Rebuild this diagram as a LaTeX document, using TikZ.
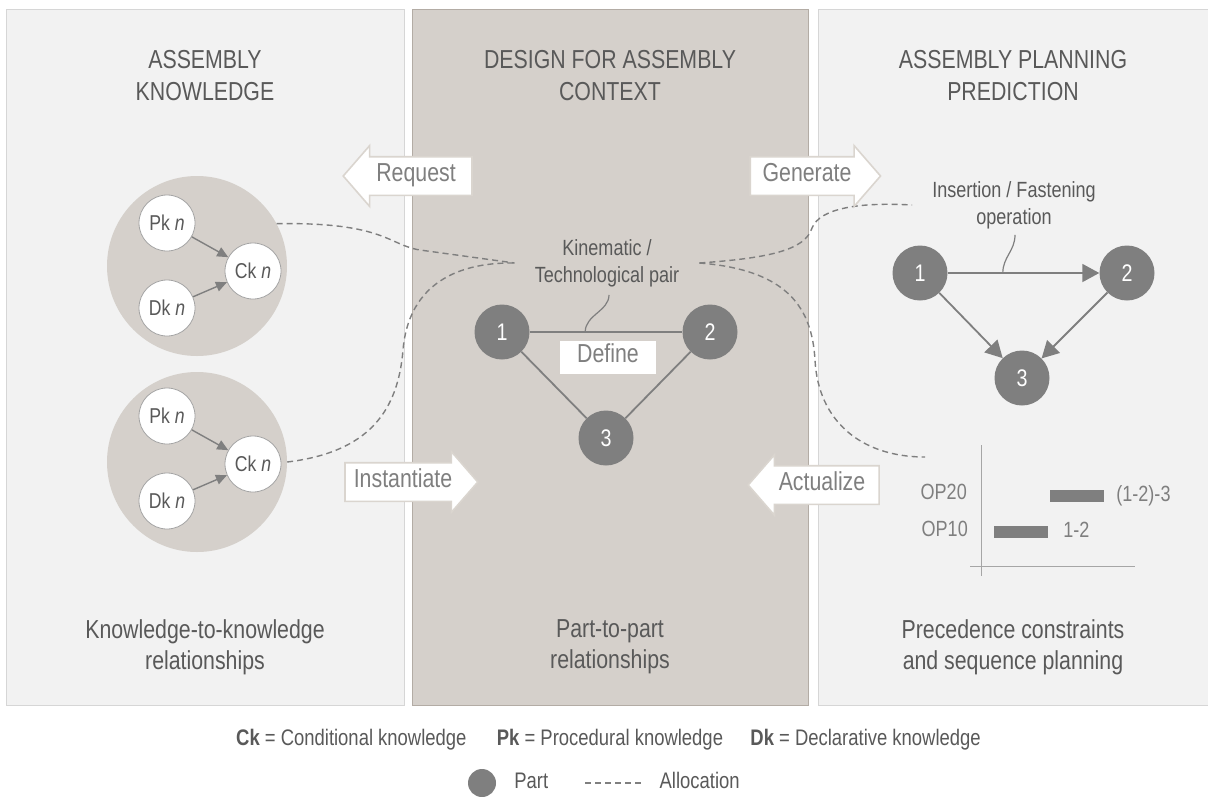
\documentclass[tikz,border=0pt]{standalone}
\usepackage{fontspec}
\setmainfont{Liberation Sans}[FakeStretch=0.82]
\usetikzlibrary{calc}
\usetikzlibrary{arrows.meta, positioning, shapes.arrows}
\definecolor{PANEL}{HTML}{F2F2F2}
\definecolor{PANELEDGE}{HTML}{D6D6D6}
\definecolor{CTX}{HTML}{D5D0CB}
\definecolor{CTXEDGE}{HTML}{B3ACA5}
\definecolor{PART}{HTML}{7F7F7F}
\definecolor{TXT}{HTML}{595959}
\definecolor{TXTL}{HTML}{7F7F7F}
\definecolor{ARREDGE}{HTML}{DAD5CF}
\definecolor{AXIS}{HTML}{A6A6A6}
\def\fsBig{\fontsize{26}{32}\selectfont}
\def\fsLow{\fontsize{26}{31}\selectfont}
\def\fsMid{\fontsize{22}{27}\selectfont}
\def\fsLeg{\fontsize{22.5}{27}\selectfont}
\tikzset{
  GRP/.style={% big grey disc holding one knowledge set
      circle, fill=CTX, minimum size=180pt, inner sep=0pt
  },
  KNW/.style={% white knowledge circles
      circle, fill=white, draw=PART!70, line width=0.8pt,
      minimum size=56pt, inner sep=0pt,
      text=TXT, font=\fontsize{21.5}{21.5}\selectfont
  },
  KARR/.style={% small arrows inside the discs
      draw=PART, line width=1.4pt,
      -{Triangle[length=11pt, width=10pt]}
  },
  PRT/.style={% dark part circles
      circle, fill=PART, minimum size=55pt, inner sep=0pt,
      text=white, font=\fontsize{24}{24}\selectfont
  },
  LNK/.style={draw=PART, line width=1.8pt},
  OPARR/.style={% operation arrows
      draw=PART, line width=1.8pt,
      -{Triangle[length=17pt, width=18pt]}
  },
  ALLOC/.style={% allocation lines
      draw=PART, line width=1.4pt, dash pattern=on 6pt off 4pt
  },
  BLK/.style={% block arrows between the panels
      single arrow, draw=ARREDGE, fill=white, line width=1.6pt,
      single arrow head extend=11pt, single arrow tip angle=98,
      inner xsep=#1, inner ysep=9pt,
      text height=15pt, text depth=4pt,
      text=TXTL, font=\fsBig
  },
  LBL/.style={% small annotation texts
      align=center, text=TXT, font=\fsMid, inner xsep=20pt, inner ysep=5pt
  },
  TTL/.style={align=center, text=TXT, font=\fsBig},
  DSC/.style={align=center, text=TXT, font=\fsLow},
  BAR/.style={rectangle, fill=PART, minimum width=54pt, minimum height=12pt, inner sep=0pt},
  GLBL/.style={text=TXTL, font=\fsMid, inner sep=0pt, text height=15pt, text depth=4pt},
  LEG/.style={text=TXT, font=\fsLeg, inner sep=0pt, text height=15pt, text depth=4pt}
}
% one knowledge set: disc with Pk, Dk and Ck
\def\cluster(#1)#2[#3]{%
  \begin{scope}[shift={(#1)}]
      \node[GRP] (grp#2) at (0,0) {};
      \node[KNW] (pk#2) at (-30,-43-#3) {Pk \textit{n}};
      \node[KNW] (dk#2) at (-30,42-#3) {Dk \textit{n}};
      \node[KNW] (ck#2) at (56,5-#3) {Ck \textit{n}};
      \draw[KARR] (pk#2) -- (ck#2);
      \draw[KARR] (dk#2) -- (ck#2);
  \end{scope}
}

\begin{document}
\begin{tikzpicture}[x=1pt, y=-1pt]
    \useasboundingbox[fill=white] (0,0) rectangle (1208,796);
    % the three panels
    \draw[fill=PANEL, draw=PANELEDGE] (6,9) rectangle (404,705);
    \draw[fill=CTX, draw=CTXEDGE] (412,9) rectangle (808,705);
    \draw[fill=PANEL, draw=PANELEDGE] (818,9) rectangle (1209,705);

    \node[TTL] (ttlK) at (205,76) {ASSEMBLY\\KNOWLEDGE};
    \node[TTL] (ttlC) at (610,76) {DESIGN FOR ASSEMBLY\\CONTEXT};
    \node[TTL] (ttlP) at (1013,76) {ASSEMBLY PLANNING\\PREDICTION};

    \node[DSC] (dscK) at (205,647) {Knowledge-to-knowledge\\relationships};
    \node[DSC] (dscC) at (610,647) {Part-to-part\\relationships};
    \node[DSC] (dscP) at (1013,647) {Precedence constraints\\and sequence planning};

    % knowledge sets
    \cluster(197,266){1}[0]
    \cluster(197,462){2}[3]

    % parts in the context
    \node[PRT] (p1) at (502,332) {1};
    \node[PRT] (p2) at (710,332) {2};
    \node[PRT] (p3) at (606,438) {3};
    \draw[LNK] (p1) -- (p2);
    \draw[LNK] (p1) -- (p3);
    \draw[LNK] (p2) -- (p3);
    \node[fill=white, text=TXTL, font=\fsBig, inner xsep=17pt, inner ysep=7pt,
          text height=15pt, text depth=4pt] (define) at (608,357) {Define};
    \node[LBL] (kinlbl) at (607,263) {Kinematic /\\Technological pair};
    \coordinate (kintip) at ($(p1)!0.4!(p2)$);
    \draw[LNK, line width=1.2pt] ($(kinlbl.south)+(2,3)$) .. controls +(0,16) and +(0,-17) .. (kintip);

    % parts in the planning
    \node[PRT] (r1) at (920,273) {1};
    \node[PRT] (r2) at (1127,273) {2};
    \node[PRT] (r3) at (1022,378) {3};
    \draw[OPARR] (r1) -- (r2);
    \draw[OPARR] (r1) -- (r3);
    \draw[OPARR] (r2) -- (r3);
    \node[LBL] (inslbl) at (1014,205) {Insertion / Fastening\\operation};
    \coordinate (instip) at ($(r1)!0.4!(r2)$);
    \draw[LNK, line width=1.2pt] ($(inslbl.south)+(1,1)$) .. controls +(0,16) and +(0,-16) .. (instip);

    % sequence chart
    \draw[draw=AXIS, line width=1pt] (981,445) -- (981,576);
    \draw[draw=AXIS, line width=1pt] (970,566) -- (1135,566);
    \node[BAR] (op20bar) at (1077,496) {};
    \node[BAR] (op10bar) at (1021,532) {};
    \node[GLBL, anchor=east] (op20) at (967,494) {OP20};
    \node[GLBL, anchor=east] (op10) at (968,531) {OP10};
    \node[GLBL, right=12pt of op20bar] (seq20) {(1-2)-3};
    \node[GLBL, right=15pt of op10bar] (seq10) {1-2};
    \coordinate (gantt) at (925,457);

    % allocation lines
    \draw[ALLOC] (grp1.28) .. controls (385,222) and (388,245) .. (420,250) -- (kinlbl.west);
    \draw[ALLOC] (grp2.east) .. controls (370,452) and (398,410) .. (403,350)
                 .. controls (408,290) and (450,262) .. (kinlbl.west);
    \draw[ALLOC] (kinlbl.east) .. controls (770,258) and (805,250) .. (812,228)
                 .. controls (820,208) and (860,202) .. (inslbl.west);
    \draw[ALLOC] (kinlbl.east) .. controls (790,270) and (812,310) .. (815,360)
                 .. controls (818,420) and (860,457) .. (gantt);

    % block arrows
    \node[BLK=15.5pt, shape border rotate=180] (request) at (416,176) {Request};
    \node[BLK=11.5pt] (generate) at (807,176) {Generate};
    \node[BLK=8pt] (instantiate) at (403,482) {Instantiate};
    \node[BLK=13pt, shape border rotate=180] (actualize) at (822,485) {Actualize};

    % legend
    \node[LEG, anchor=west] (legck) at (236,740) {\textbf{Ck} = Conditional knowledge};
    \node[LEG, right=30pt of legck] (legpk) {\textbf{Pk} = Procedural knowledge};
    \node[LEG, right=27pt of legpk] (legdk) {\textbf{Dk} = Declarative knowledge};
    \node[circle, fill=PART, minimum size=28pt, inner sep=0pt] (legpart) at (482,783) {};
    \node[LEG, right=18pt of legpart] (legpartlbl) {Part};
    \coordinate[right=37pt of legpartlbl] (legdashA);
    \coordinate[right=58pt of legdashA] (legdashB);
    \draw[ALLOC] (legdashA) -- (legdashB);
    \node[LEG, right=16pt of legdashB] (legalloc) {Allocation};
\end{tikzpicture}
\end{document}
